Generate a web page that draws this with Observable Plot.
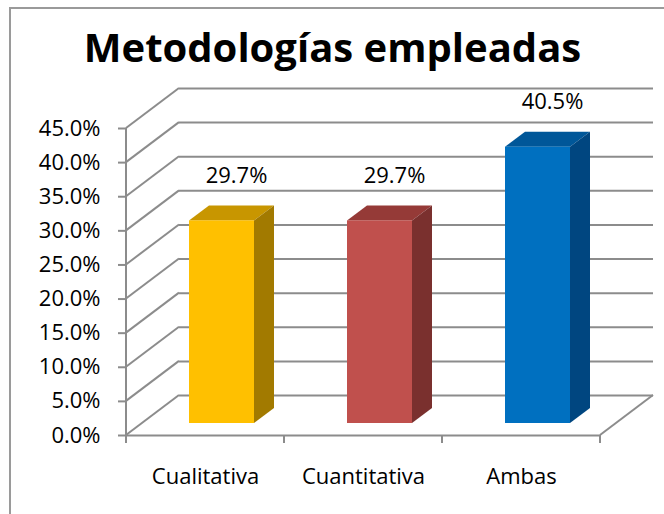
<!DOCTYPE html>
<html>
<head>
<meta charset="utf-8">
<script src="https://cdn.jsdelivr.net/npm/d3@7"></script>
<script src="https://cdn.jsdelivr.net/npm/@observablehq/plot@0.6"></script>
<style>
  html, body { margin: 0; padding: 0; background: #ffffff; }
  svg { display: block; }
</style>
</head>
<body>
<div id="chart"></div>
<script>
// ---- data ----
const title = "Metodologías empleadas";
const categories = ["Cualitativa", "Cuantitativa", "Ambas"];
const values = [29.7, 29.7, 40.5];
const valueLabels = ["29.7%", "29.7%", "40.5%"];
const frontColors = ["#FFC000", "#C0504D", "#0070C0"];
const topColors = ["#C89600", "#953A37", "#005799"];
const sideColors = ["#A27A00", "#7A302E", "#004680"];
const yTicks = [0, 5, 10, 15, 20, 25, 30, 35, 40, 45];
const yTickLabels = ["0.0%", "5.0%", "10.0%", "15.0%", "20.0%", "25.0%", "30.0%", "35.0%", "40.0%", "45.0%"];

const data = categories.map((c, i) => ({
  cat: c, value: values[i], label: valueLabels[i],
  front: frontColors[i], top: topColors[i], side: sideColors[i]
}));

// ---- 3D look (pixel offsets) ----
const WALL_DX = 53, WALL_DY = -40;   // depth of the walls
const BAR_DX = 16, BAR_DY = -12;     // bars sit mid-depth
const BOX_DX = 20, BOX_DY = -15;     // depth of each bar box
const INSET_L = 47, INSET_R = 46;
const GRID = "#8c8c8c";

const W = 664, H = 514;

function border(index, scales, values, dims) {
  const g = d3.create("svg:g");
  g.append("path").attr("d", `M10,${H} V8 H${W}`)
    .attr("fill", "none").attr("stroke", "#9a9a9a").attr("stroke-width", 2);
  return g.node();
}

function walls(index, scales, values, dims) {
  const g = d3.create("svg:g").attr("stroke", GRID).attr("stroke-width", 2).attr("fill", "none");
  const xl = dims.marginLeft, xr = dims.width - dims.marginRight;
  const y0 = scales.y(0);
  for (const t of yTicks) {
    const y = scales.y(t);
    g.append("line").attr("x1", xl).attr("y1", y).attr("x2", xl + WALL_DX).attr("y2", y + WALL_DY);
  }
  g.append("line").attr("x1", xr).attr("y1", y0).attr("x2", xr + WALL_DX).attr("y2", y0 + WALL_DY);
  g.append("line").attr("x1", xl).attr("y1", scales.y(yTicks[yTicks.length - 1])).attr("x2", xl).attr("y2", y0);
  const step = scales.x(categories[1]) - scales.x(categories[0]);
  for (let i = 0; i <= categories.length; i++) {
    const x = xl + i * step;
    g.append("line").attr("x1", x).attr("y1", y0).attr("x2", x).attr("y2", y0 + 8);
  }
  return g.node();
}

function boxes(index, scales, values, dims) {
  const g = d3.create("svg:g");
  const step = scales.x(categories[1]) - scales.x(categories[0]);
  for (const d of data) {
    const x0 = scales.x(d.cat) + INSET_L + BAR_DX;
    const x1 = scales.x(d.cat) + step - INSET_R + BAR_DX;
    const yt = scales.y(d.value) + BAR_DY;
    const yb = scales.y(0) + BAR_DY;
    g.append("polygon")
      .attr("points", [[x0, yt], [x0 + BOX_DX, yt + BOX_DY], [x1 + BOX_DX, yt + BOX_DY], [x1, yt]].map(p => p.join(",")).join(" "))
      .attr("fill", d.top);
    g.append("polygon")
      .attr("points", [[x1, yt], [x1 + BOX_DX, yt + BOX_DY], [x1 + BOX_DX, yb + BOX_DY], [x1, yb]].map(p => p.join(",")).join(" "))
      .attr("fill", d.side);
  }
  return g.node();
}

const chart = Plot.plot({
  width: W,
  height: H,
  marginLeft: 126,
  marginRight: 64,
  marginTop: 128,
  marginBottom: 79,
  style: { fontFamily: "'Open Sans', sans-serif", background: "#ffffff", color: "#000000" },
  x: { type: "band", domain: categories, padding: 0, axis: null },
  y: { domain: [0, 45], axis: null },
  color: { type: "identity" },
  marks: [
    border,
    Plot.ruleY(yTicks, { dx: WALL_DX, dy: WALL_DY, stroke: GRID, strokeWidth: 2 }),
    Plot.ruleY([0], { stroke: GRID, strokeWidth: 2 }),
    walls,
    boxes,
    Plot.barY(data, {
      x: "cat", y: "value", fill: "front",
      insetLeft: INSET_L, insetRight: INSET_R, dx: BAR_DX, dy: BAR_DY
    }),
    Plot.text(data, {
      x: "cat", y: "value", text: "label", dx: 31, dy: -57,
      fontSize: 22, fill: "#000000", lineAnchor: "middle"
    }),
    Plot.axisY(yTicks, {
      tickSize: 8, tickPadding: 18, fontSize: 22, stroke: GRID, strokeWidth: 2, fill: "#000000",
      tickFormat: d => yTickLabels[yTicks.indexOf(d)], label: null
    }),
    Plot.axisX({
      tickSize: 0, tickPadding: 33, fontSize: 22, fill: "#000000", label: null
    }),
    Plot.text([title], {
      frameAnchor: "top", text: d => d, dx: -31, dy: -79,
      fontSize: 40, fontWeight: "bold", fill: "#000000", lineAnchor: "middle"
    })
  ]
});

document.getElementById("chart").appendChild(chart);
</script>
</body>
</html>
